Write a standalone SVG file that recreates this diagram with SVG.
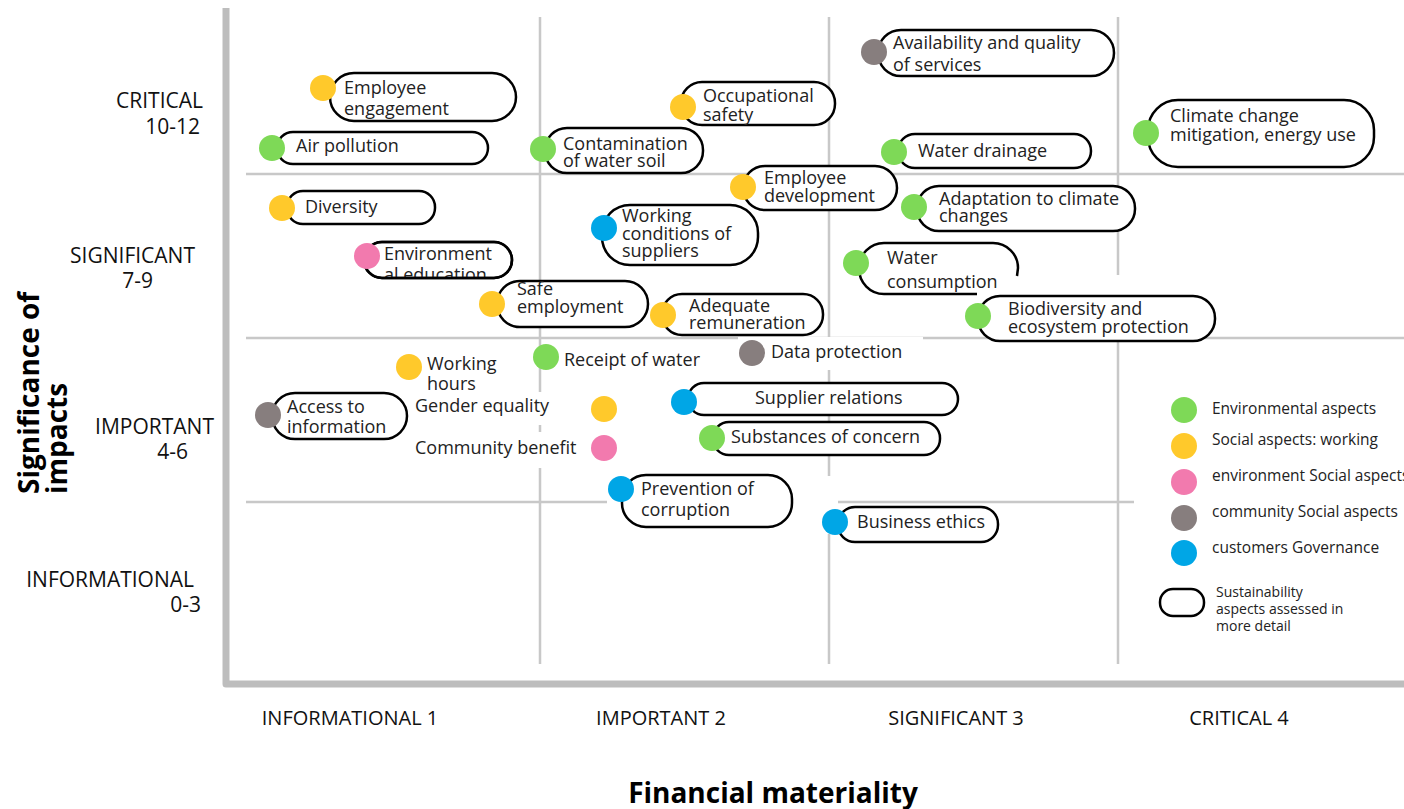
<svg xmlns="http://www.w3.org/2000/svg" width="1404" height="809" viewBox="0 0 1404 809">
  <style>
    .grid { stroke: #c8c8c8; stroke-width: 2.5; fill: none; }
    .axis { stroke: #bdbdbd; stroke-width: 7; fill: none; stroke-linejoin: round; }
    .pill { fill: #fff; stroke: #000; stroke-width: 2.5; }
    .bg { fill: #fff; }
    .lbl { font-family: "Open Sans", "Liberation Sans", sans-serif; font-size: 18px; fill: #222; }
    .leg { font-family: "Open Sans", "Liberation Sans", sans-serif; font-size: 15.5px; fill: #222; }
    .leg2 { font-family: "Open Sans", "Liberation Sans", sans-serif; font-size: 14px; fill: #222; }
    .tick { font-family: "Open Sans", "Liberation Sans", sans-serif; font-size: 20px; fill: #111; }
    .vtick { font-family: "Open Sans", "Liberation Sans", sans-serif; font-size: 21px; fill: #111; }
    .title { font-family: "Open Sans", "Liberation Sans", sans-serif; font-size: 28px; font-weight: 700; fill: #000; }
    .env { fill: #7ed957; }
    .work { fill: #ffc92b; }
    .envsoc { fill: #f27aae; }
    .com { fill: #877e7e; }
    .gov { fill: #00a6e6; }
  </style>
  <defs>
    <clipPath id="clip-edu">
      <rect x="360" y="238" width="160" height="40"/>
    </clipPath>
  </defs>
  <rect width="1404" height="809" fill="#fff"/>

  <!-- grid and axes -->
  <g id="grid">
    <line class="grid" x1="540" y1="17" x2="540" y2="664"/>
    <line class="grid" x1="829" y1="17" x2="829" y2="664"/>
    <line class="grid" x1="1118" y1="17" x2="1118" y2="275"/>
    <line class="grid" x1="1118" y1="296" x2="1118" y2="664"/>
    <line class="grid" x1="246" y1="174" x2="1404" y2="174"/>
    <line class="grid" x1="246" y1="338" x2="1404" y2="338"/>
    <line class="grid" x1="246" y1="502" x2="1134" y2="502"/>
    <polyline class="axis" points="226,8 226,684 1404,684"/>
  </g>

  <!-- vertical axis: impact levels -->
  <g id="y-axis" text-anchor="end">
    <text class="vtick" x="203" y="108">CRITICAL</text>
    <text class="vtick" x="200" y="134">10-12</text>
    <text class="vtick" x="195" y="263">SIGNIFICANT</text>
    <text class="vtick" x="153" y="288">7-9</text>
    <text class="vtick" x="214" y="434">IMPORTANT</text>
    <text class="vtick" x="188" y="459">4-6</text>
    <text class="vtick" x="194" y="587">INFORMATIONAL</text>
    <text class="vtick" x="201" y="612">0-3</text>
  </g>
  <g id="y-title" text-anchor="start">
    <text class="title" transform="translate(39,494) rotate(-90)">Significance of</text>
    <text class="title" transform="translate(67,494) rotate(-90)">impacts</text>
  </g>

  <!-- horizontal axis: financial levels -->
  <g id="x-axis" text-anchor="middle">
    <text class="tick" x="350" y="725">INFORMATIONAL 1</text>
    <text class="tick" x="661" y="725">IMPORTANT 2</text>
    <text class="tick" x="956" y="725">SIGNIFICANT 3</text>
    <text class="tick" x="1239" y="725">CRITICAL 4</text>
    <text class="title" x="773" y="803">Financial materiality</text>
  </g>

  <!-- connectors (none drawn) -->
  <g id="connectors"></g>

  <!-- aspects -->
  <g id="employee-engagement">
    <rect class="pill" x="330" y="73" width="186" height="48" rx="24"/>
    <circle class="work" cx="323" cy="88" r="13"/>
    <text class="lbl"><tspan x="344" y="94">Employee</tspan><tspan x="344" y="115">engagement</tspan></text>
  </g>
  <g id="air-pollution">
    <rect class="pill" x="277" y="132" width="211" height="32" rx="16"/>
    <circle class="env" cx="272" cy="148" r="13"/>
    <text class="lbl" x="296" y="152">Air pollution</text>
  </g>
  <g id="contamination-of-water-soil">
    <rect class="pill" x="545" y="128" width="158" height="45" rx="22"/>
    <circle class="env" cx="543" cy="149" r="13"/>
    <text class="lbl"><tspan x="563" y="150">Contamination</tspan><tspan x="563" y="167">of water soil</tspan></text>
  </g>
  <g id="occupational-safety">
    <rect class="pill" x="681" y="82" width="154" height="43" rx="21"/>
    <circle class="work" cx="683" cy="107" r="13"/>
    <text class="lbl"><tspan x="703" y="102">Occupational</tspan><tspan x="703" y="121">safety</tspan></text>
  </g>
  <g id="availability-of-services">
    <rect class="pill" x="878" y="30" width="236" height="46" rx="23"/>
    <circle class="com" cx="874" cy="52" r="13"/>
    <text class="lbl"><tspan x="893" y="49">Availability and quality</tspan><tspan x="893" y="71">of services</tspan></text>
  </g>
  <g id="water-drainage">
    <rect class="pill" x="898" y="134" width="193" height="34" rx="17"/>
    <circle class="env" cx="894" cy="152" r="13"/>
    <text class="lbl" x="918" y="157">Water drainage</text>
  </g>
  <g id="climate-change">
    <rect class="pill" x="1148" y="100" width="226" height="67" rx="30"/>
    <circle class="env" cx="1146" cy="133" r="13"/>
    <text class="lbl"><tspan x="1170" y="122">Climate change</tspan><tspan x="1170" y="141">mitigation, energy use</tspan></text>
  </g>
  <g id="diversity">
    <rect class="pill" x="287" y="191" width="148" height="33" rx="16"/>
    <circle class="work" cx="282" cy="208" r="13"/>
    <text class="lbl" x="305" y="213">Diversity</text>
  </g>
  <g id="environmental-education">
    <rect class="pill" x="364" y="242" width="148" height="36" rx="18"/>
    <text class="lbl" clip-path="url(#clip-edu)"><tspan x="384" y="260">Environment</tspan><tspan x="384" y="281">al education</tspan></text>
    <rect x="364" y="242" width="148" height="36" rx="18" fill="none" stroke="#000" stroke-width="2.5"/>
    <circle class="envsoc" cx="367" cy="256" r="13"/>
  </g>
  <g id="employee-development">
    <rect class="pill" x="743" y="166" width="154" height="44" rx="22"/>
    <circle class="work" cx="743" cy="187" r="13"/>
    <text class="lbl"><tspan x="764" y="184">Employee</tspan><tspan x="764" y="202">development</tspan></text>
  </g>
  <g id="working-conditions-of-suppliers">
    <rect class="pill" x="602" y="205" width="156" height="60" rx="28"/>
    <circle class="gov" cx="604" cy="228" r="13"/>
    <text class="lbl"><tspan x="622" y="222">Working</tspan><tspan x="622" y="240">conditions of</tspan><tspan x="622" y="257">suppliers</tspan></text>
  </g>
  <g id="adaptation-to-climate-changes">
    <rect class="pill" x="917" y="186" width="218" height="45" rx="22"/>
    <circle class="env" cx="914" cy="207" r="13"/>
    <text class="lbl"><tspan x="939" y="205">Adaptation to climate</tspan><tspan x="939" y="222">changes</tspan></text>
  </g>
  <g id="water-consumption">
    <path d="M977,294 H884 A25,25.5 0 0 1 884,243 H993 A25,25 0 0 1 1018,268 L1017,276" fill="#fff" stroke="#000" stroke-width="2.5"/>
    <circle class="env" cx="856" cy="263" r="13"/>
    <text class="lbl"><tspan x="887" y="264">Water</tspan><tspan x="887" y="288">consumption</tspan></text>
  </g>
  <g id="safe-employment">
    <rect class="pill" x="497" y="281" width="151" height="46" rx="23"/>
    <circle class="work" cx="492" cy="304" r="13"/>
    <text class="lbl"><tspan x="517" y="295">Safe</tspan><tspan x="517" y="313">employment</tspan></text>
  </g>
  <g id="adequate-remuneration">
    <rect class="pill" x="662" y="294" width="161" height="41" rx="20"/>
    <circle class="work" cx="663" cy="315" r="13"/>
    <text class="lbl"><tspan x="689" y="312">Adequate</tspan><tspan x="689" y="329">remuneration</tspan></text>
  </g>
  <g id="biodiversity">
    <rect class="pill" x="978" y="296" width="237" height="45" rx="22"/>
    <circle class="env" cx="978" cy="316" r="13"/>
    <text class="lbl"><tspan x="1008" y="315">Biodiversity and</tspan><tspan x="1008" y="333">ecosystem protection</tspan></text>
  </g>
  <g id="working-hours">
    <circle class="work" cx="409" cy="367" r="13"/>
    <text class="lbl"><tspan x="427" y="370">Working</tspan><tspan x="427" y="390">hours</tspan></text>
  </g>
  <g id="receipt-of-water">
    <circle class="env" cx="546" cy="357" r="13"/>
    <text class="lbl" x="564" y="366">Receipt of water</text>
  </g>
  <g id="data-protection">
    <rect class="bg" x="738" y="337" width="185" height="33"/>
    <circle class="com" cx="752" cy="353" r="13"/>
    <text class="lbl" x="771" y="358">Data protection</text>
  </g>
  <g id="access-to-information">
    <rect class="pill" x="272" y="393" width="135" height="46" rx="23"/>
    <circle class="com" cx="268" cy="415" r="13"/>
    <text class="lbl"><tspan x="287" y="413">Access to</tspan><tspan x="287" y="433">information</tspan></text>
  </g>
  <g id="gender-equality">
    <rect class="bg" x="412" y="392" width="136" height="33"/>
    <text class="lbl" x="415" y="412">Gender equality</text>
    <circle class="work" cx="604" cy="409" r="13"/>
  </g>
  <g id="community-benefit">
    <rect class="bg" x="412" y="432" width="176" height="36"/>
    <text class="lbl" x="415" y="454">Community benefit</text>
    <circle class="envsoc" cx="604" cy="448" r="13"/>
  </g>
  <g id="supplier-relations">
    <rect class="pill" x="688" y="383" width="270" height="32" rx="16"/>
    <circle class="gov" cx="684" cy="402" r="13"/>
    <text class="lbl" x="755" y="404">Supplier relations</text>
  </g>
  <g id="substances-of-concern">
    <rect class="pill" x="713" y="422" width="227" height="33" rx="16"/>
    <circle class="env" cx="712" cy="438" r="13"/>
    <text class="lbl" x="731" y="443">Substances of concern</text>
  </g>
  <g id="prevention-of-corruption">
    <rect class="bg" x="607" y="476" width="231" height="58"/>
    <rect class="pill" x="622" y="475" width="170" height="52" rx="24"/>
    <circle class="gov" cx="621" cy="489" r="13"/>
    <text class="lbl"><tspan x="641" y="495">Prevention of</tspan><tspan x="641" y="516">corruption</tspan></text>
  </g>
  <g id="business-ethics">
    <rect class="pill" x="838" y="507" width="160" height="35" rx="17"/>
    <circle class="gov" cx="835" cy="522" r="13"/>
    <text class="lbl" x="857" y="528">Business ethics</text>
  </g>

  <!-- legend -->
  <g id="legend">
    <circle class="env" cx="1184" cy="410" r="13"/>
    <text class="leg" x="1212" y="414">Environmental aspects</text>
    <circle class="work" cx="1184" cy="446" r="13"/>
    <text class="leg" x="1212" y="445">Social aspects: working</text>
    <circle class="envsoc" cx="1184" cy="482" r="13"/>
    <text class="leg" x="1212" y="481">environment Social aspects</text>
    <circle class="com" cx="1184" cy="518" r="13"/>
    <text class="leg" x="1212" y="517">community Social aspects</text>
    <circle class="gov" cx="1184" cy="553" r="13"/>
    <text class="leg" x="1212" y="553">customers Governance</text>
    <rect class="pill" x="1160" y="589" width="44" height="27" rx="13"/>
    <text class="leg2"><tspan x="1216" y="597">Sustainability</tspan><tspan x="1216" y="614">aspects assessed in</tspan><tspan x="1216" y="631">more detail</tspan></text>
  </g>
</svg>
